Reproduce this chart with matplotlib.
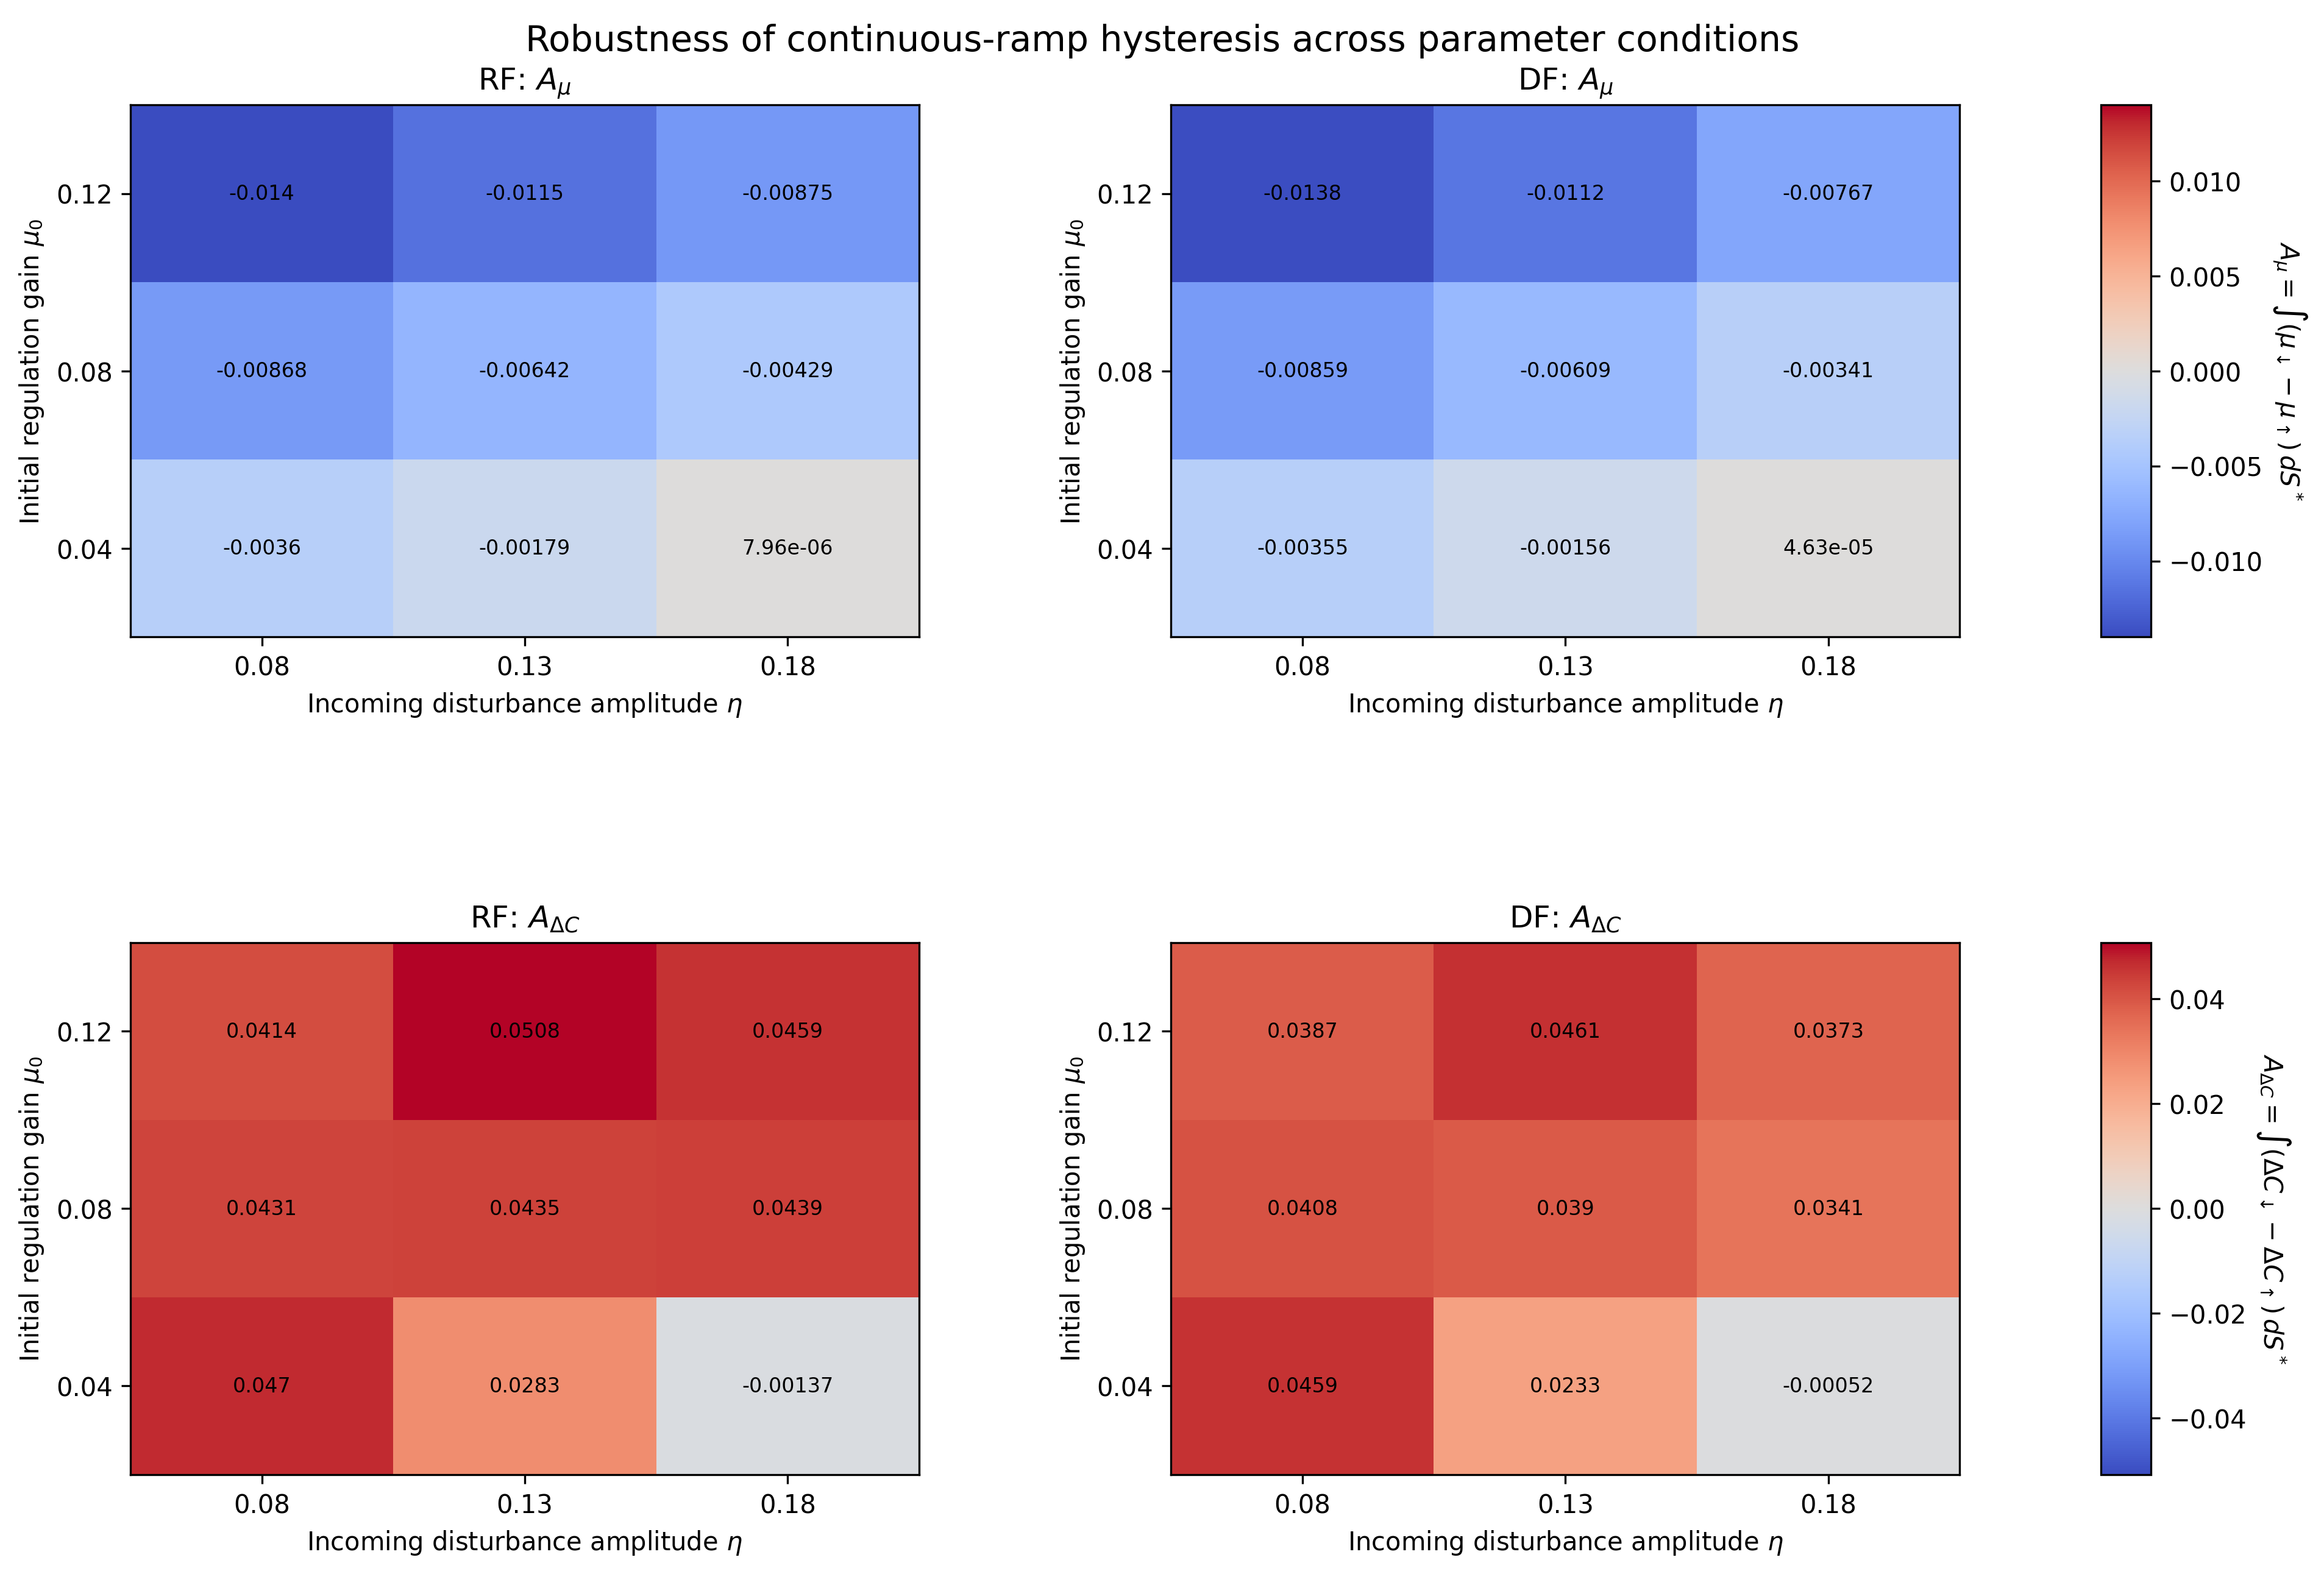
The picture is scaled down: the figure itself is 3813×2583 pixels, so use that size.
import numpy as np
import matplotlib
matplotlib.use('Agg')
import matplotlib.pyplot as plt

eta_vals = [0.08, 0.13, 0.18]
mu_vals = [0.04, 0.08, 0.12]

# rows follow mu_vals (bottom to top), columns follow eta_vals
rf_amu = [[-0.0036, -0.00179, 7.96e-06],
          [-0.00868, -0.00642, -0.00429],
          [-0.014, -0.0115, -0.00875]]
df_amu = [[-0.00355, -0.00156, 4.63e-05],
          [-0.00859, -0.00609, -0.00341],
          [-0.0138, -0.0112, -0.00767]]
rf_adc = [[0.047, 0.0283, -0.00137],
          [0.0431, 0.0435, 0.0439],
          [0.0414, 0.0508, 0.0459]]
df_adc = [[0.0459, 0.0233, -0.00052],
          [0.0408, 0.039, 0.0341],
          [0.0387, 0.0461, 0.0373]]

fig = plt.figure(figsize=(12.713, 8.613), dpi=300)
fig.suptitle('Robustness of continuous-ramp hysteresis across parameter conditions', fontsize=14, y=0.985)

col_x = [0.0561, 0.5038]
col_w = 0.3393
row_y = [0.5951, 0.0631]
row_h = 0.338

panels = [
    [('RF: $A_\\mu$', rf_amu), ('DF: $A_\\mu$', df_amu)],
    [('RF: $A_{\\Delta C}$', rf_adc), ('DF: $A_{\\Delta C}$', df_adc)],
]
cb_labels = ['$A_\\mu = \\int(\\mu_\\downarrow - \\mu_\\uparrow)\\,dS^*$',
             '$A_{\\Delta C} = \\int(\\Delta C_\\downarrow - \\Delta C_\\uparrow)\\,dS^*$']

for r in range(2):
    vmax = max(np.abs(np.array(panels[r][0][1])).max(), np.abs(np.array(panels[r][1][1])).max())
    for c in range(2):
        title, data = panels[r][c]
        data = np.array(data)
        ax = fig.add_axes([col_x[c], row_y[r], col_w, row_h])
        im = ax.imshow(data, origin='lower', cmap='coolwarm', vmin=-vmax, vmax=vmax, aspect='auto')
        for i in range(len(mu_vals)):
            for j in range(len(eta_vals)):
                ax.text(j, i, '{:.3g}'.format(data[i, j]), ha='center', va='center', fontsize=8)
        ax.set_xticks(range(len(eta_vals)))
        ax.set_xticklabels([str(v) for v in eta_vals])
        ax.set_yticks(range(len(mu_vals)))
        ax.set_yticklabels([str(v) for v in mu_vals])
        ax.set_xlabel('Incoming disturbance amplitude $\\eta$')
        ax.set_ylabel('Initial regulation gain $\\mu_0$')
        ax.set_title(title, fontsize=12)
    cax = fig.add_axes([0.9037, row_y[r], 0.0217, row_h])
    cb = fig.colorbar(im, cax=cax)
    cb.set_label(cb_labels[r], rotation=270, labelpad=18)

plt.savefig('out.png', dpi=300)
